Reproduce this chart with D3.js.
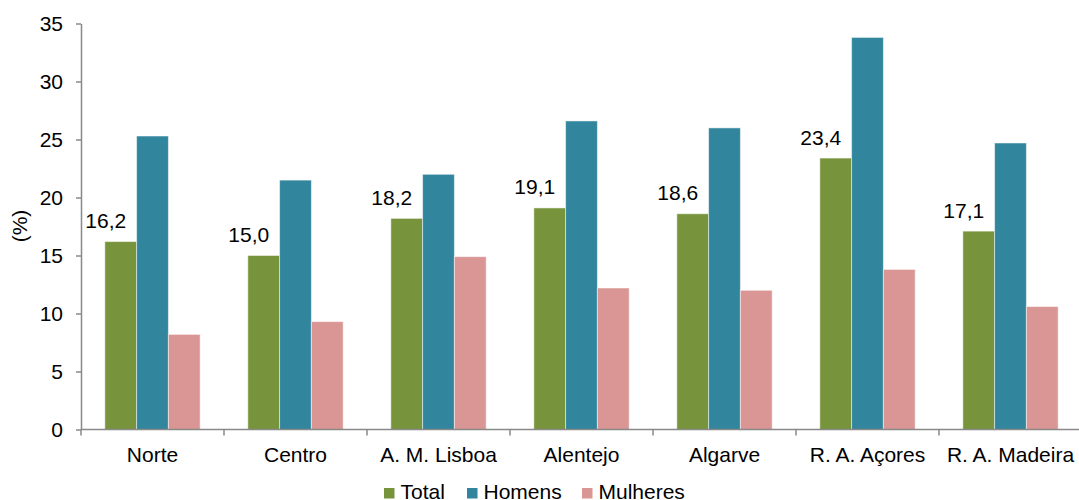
<!DOCTYPE html>
<html>
<head>
<meta charset="utf-8">
<script src="https://cdn.jsdelivr.net/npm/d3@7"></script>
<style>
  html, body { margin: 0; padding: 0; background: #fff; }
  svg { display: block; font-family: "Liberation Sans", Arial, sans-serif; }
</style>
</head>
<body>
<svg id="chart" width="1079" height="500"></svg>
<script>
// Regions and rates (%) by sex
const categories = ["Norte", "Centro", "A. M. Lisboa", "Alentejo", "Algarve", "R. A. Açores", "R. A. Madeira"];
const seriesNames = ["Total", "Homens", "Mulheres"];
const total    = [16.2, 15.0, 18.2, 19.1, 18.6, 23.4, 17.1];
const homens   = [25.3, 21.5, 22.0, 26.6, 26.0, 33.8, 24.7];
const mulheres = [8.2, 9.3, 14.9, 12.2, 12.0, 13.8, 10.6];
const yTicks = [0, 5, 10, 15, 20, 25, 30, 35];
const colors = ["#77933C", "#31859C", "#D99694"];

const seriesValues = [total, homens, mulheres];
const svg = d3.select("#chart");
const fontSize = 21;

const plotLeft = 81, plotRight = 1082, plotTop = 23.5, plotBottom = 429.5;

const x0 = d3.scaleBand().domain(categories).range([plotLeft, plotRight]).padding(0);
const x1 = d3.scaleBand().domain(seriesNames).range([0, x0.bandwidth()]).paddingInner(0).paddingOuter(0.75);
const y = d3.scaleLinear().domain([0, 35]).range([plotBottom, plotTop]);

// Bars
const groups = svg.append("g").selectAll("g")
  .data(categories)
  .join("g")
  .attr("transform", d => `translate(${x0(d)},0)`);

groups.selectAll("rect")
  .data((c, i) => seriesNames.map((s, k) => ({ s, k, v: seriesValues[k][i] })))
  .join("rect")
  .attr("x", d => x1(d.s))
  .attr("y", d => y(d.v))
  .attr("width", x1.bandwidth())
  .attr("height", d => y(0) - y(d.v))
  .attr("fill", d => colors[d.k])
  .attr("stroke", "#fff")
  .attr("stroke-opacity", 0.5)
  .attr("stroke-width", 1);

// Value labels on the Total series
svg.append("g").selectAll("text")
  .data(categories)
  .join("text")
  .attr("x", (c, i) => x0(c) + x1("Total") + x1.bandwidth() / 2 - 15)
  .attr("y", (c, i) => y(total[i]) - 13.5)
  .attr("text-anchor", "middle")
  .attr("font-size", fontSize)
  .attr("fill", "#000")
  .text((c, i) => total[i].toFixed(1).replace(".", ","));

// Y axis
const yAxis = svg.append("g")
  .attr("transform", `translate(${plotLeft},0)`)
  .call(d3.axisLeft(y).tickValues(yTicks).tickSize(5).tickSizeOuter(0).tickPadding(13));
yAxis.select(".domain").attr("stroke", "#898989").attr("stroke-width", 1.5);
yAxis.selectAll(".tick line").attr("stroke", "#898989").attr("stroke-width", 1.5);
yAxis.selectAll(".tick text").attr("font-size", fontSize).attr("fill", "#000")
  .attr("font-family", "'Liberation Sans', Arial, sans-serif");

// X axis: baseline, boundary ticks and category labels
const xAxis = svg.append("g");
xAxis.append("line")
  .attr("x1", plotLeft).attr("x2", 1079)
  .attr("y1", y(0)).attr("y2", y(0))
  .attr("stroke", "#898989").attr("stroke-width", 1.5);
xAxis.selectAll("line.tick")
  .data(categories.concat([null]))
  .join("line")
  .attr("class", "tick")
  .attr("x1", (d, i) => plotLeft + i * x0.step())
  .attr("x2", (d, i) => plotLeft + i * x0.step())
  .attr("y1", y(0)).attr("y2", y(0) + 6)
  .attr("stroke", "#898989").attr("stroke-width", 1.5);
xAxis.selectAll("text")
  .data(categories)
  .join("text")
  .attr("x", d => x0(d) + x0.bandwidth() / 2)
  .attr("y", 462)
  .attr("text-anchor", "middle")
  .attr("font-size", fontSize)
  .attr("fill", "#000")
  .text(d => d);

// Y axis title
svg.append("text")
  .attr("transform", "translate(27,226) rotate(-90)")
  .attr("text-anchor", "middle")
  .attr("font-size", fontSize)
  .attr("fill", "#000")
  .text("(%)");

// Legend
const legendX = [384, 467, 582];
const legend = svg.append("g").selectAll("g")
  .data(seriesNames)
  .join("g")
  .attr("transform", (d, i) => `translate(${legendX[i]},488)`);
legend.append("rect")
  .attr("width", 10.5).attr("height", 10.5)
  .attr("fill", (d, i) => colors[i]);
legend.append("text")
  .attr("x", 16.5).attr("y", 10.5)
  .attr("font-size", fontSize)
  .attr("fill", "#000")
  .text(d => d);
</script>
</body>
</html>
